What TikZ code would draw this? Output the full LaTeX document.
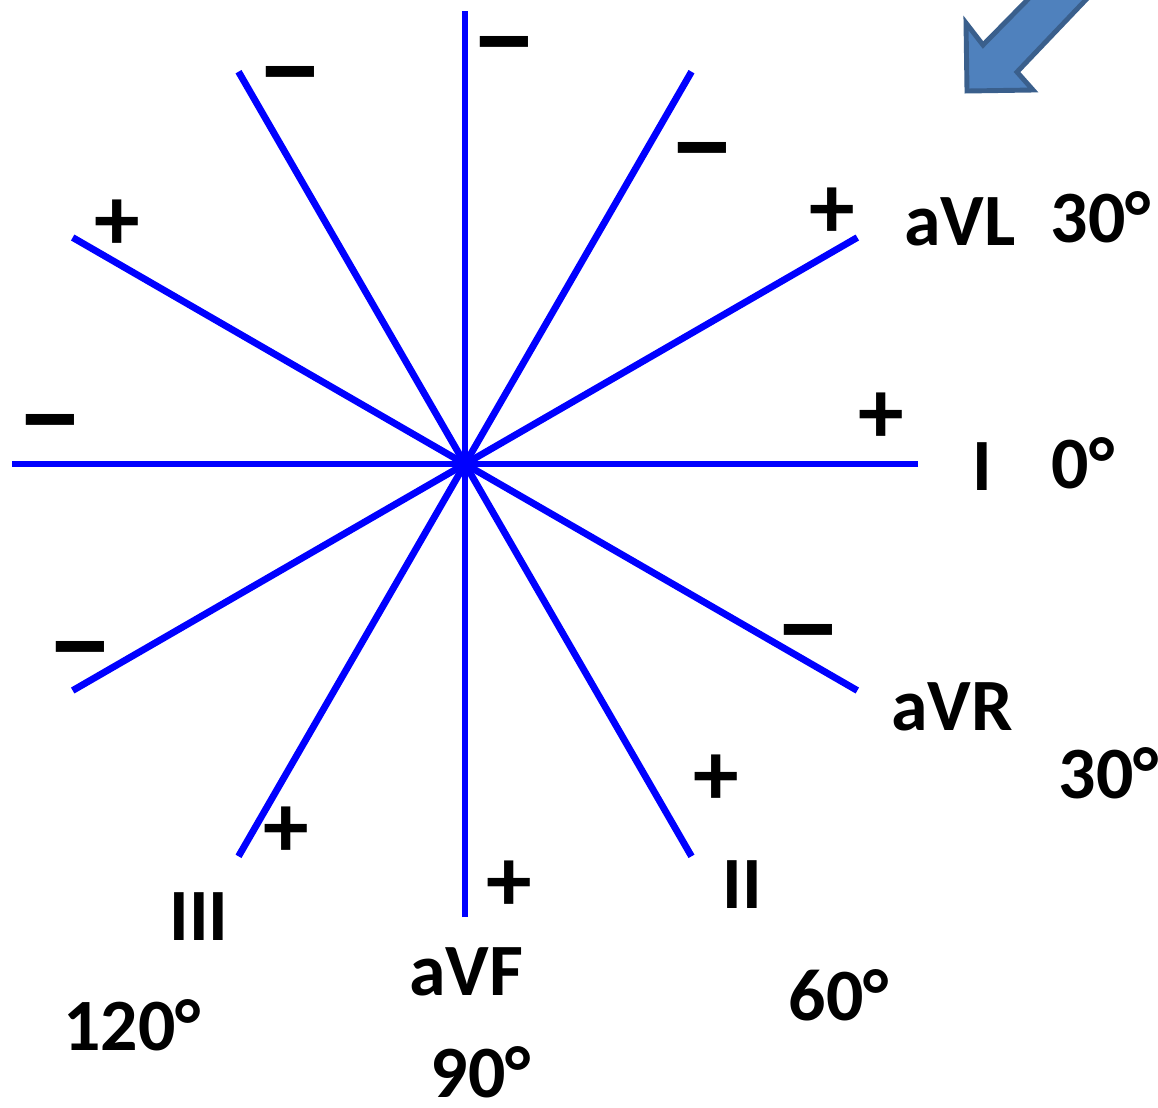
\documentclass[tikz,border=0pt]{standalone}
\usepackage{fontspec}
\setmainfont{Carlito}
\usetikzlibrary{calc}
\definecolor{arrowfill}{HTML}{4F81BD}
\definecolor{arrowline}{HTML}{3A5F8C}

\begin{document}
\begin{tikzpicture}[x=0.02cm,y=-0.02cm,
  axis/.style={blue,line width=3.9pt},
  sgn/.style={font=\fontsize{52}{58}\selectfont\bfseries,inner sep=0pt},
  neg/.style={sgn,xscale=1.36,yscale=1.3,text height=0.4em,text depth=0pt,anchor=base},
  lbl/.style={font=\fontsize{42}{48}\selectfont\bfseries,inner sep=0pt,anchor=base}]
  \useasboundingbox (0,0) rectangle (1158,1107);
  % blue arrow, cut off by the top edge
  \begin{scope}
    \clip (0,0) rectangle (1158,1107);
    \filldraw[fill=arrowfill,draw=arrowline,line width=2.8pt]
      (1040,-13) -- (983,45) -- (966,23) -- (967,91) -- (1033,90)
      -- (1017,72) -- (1098,-13) -- cycle;
  \end{scope}
  % the six lead axes
  \coordinate (O) at (465,464);
  \foreach \a in {0,30,...,150} {
    \coordinate (p\a) at ($(O)+(\a:453)$);
    \coordinate (m\a) at ($(O)+(\a+180:453)$);
    \draw[axis] (p\a) -- (m\a);
  }
  % poles
  \node[neg] (mF) at (504,79) {−};
  \node[neg] (mIII) at (290,109) {−};
  \node[neg] (mII) at (702,185) {−};
  \node[neg] (mI) at (50,457) {−};
  \node[neg] (mL) at (80,684) {−};
  \node[neg] (mR) at (808,667) {−};
  \node[sgn] (pR) at (117,225) {+};
  \node[sgn] (pL) at (832,213) {+};
  \node[sgn] (pI) at (881,418) {+};
  \node[sgn] (pII) at (716,780) {+};
  \node[sgn] (pIII) at (286,832) {+};
  \node[sgn] (pF) at (509,886) {+};
  % lead names and angles
  \node[lbl] (aVL) at (960,245) {aVL};
  \node[lbl] (dL) at (1101,242) {30°};
  \node[lbl] (I) at (982,490) {I};
  \node[lbl] (dI) at (1083,488) {0°};
  \node[lbl] (aVR) at (952,730) {aVR};
  \node[lbl] (dR) at (1109,798) {30°};
  \node[lbl] (II) at (742,908) {II};
  \node[lbl] (dII) at (839,1020) {60°};
  \node[lbl] (aVF) at (466,995) {aVF};
  \node[lbl] (dF) at (481,1097) {90°};
  \node[lbl] (III) at (199,940) {III};
  \node[lbl] (dIII) at (132,1050) {120°};
\end{tikzpicture}
\end{document}
